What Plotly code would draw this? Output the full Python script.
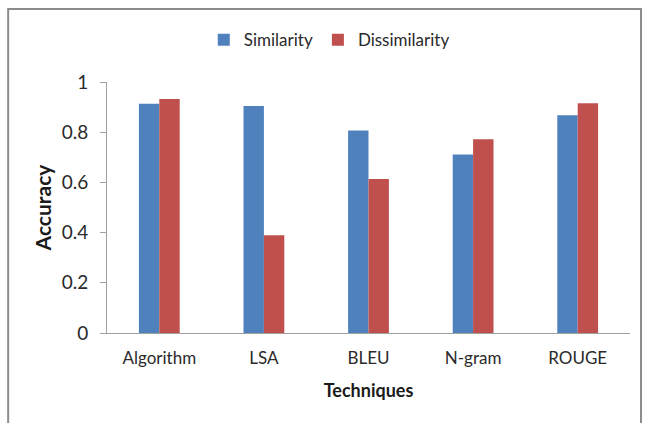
import plotly.graph_objects as go

techniques = ["Algorithm", "LSA", "BLEU", "N-gram", "ROUGE"]
similarity = [0.913, 0.904, 0.807, 0.711, 0.868]
dissimilarity = [0.932, 0.389, 0.614, 0.772, 0.915]
y_ticks = [0, 0.2, 0.4, 0.6, 0.8, 1]
y_tick_labels = ["0", "0.2", "0.4", "0.6", "0.8", "1"]

FONT = "Lato, Carlito, Calibri, sans-serif"
TXT = "#2a2a2a"

fig = go.Figure()
fig.add_trace(go.Bar(name="Similarity", x=techniques, y=similarity,
                     marker=dict(color="#4F81BD", line=dict(width=0))))
fig.add_trace(go.Bar(name="Dissimilarity", x=techniques, y=dissimilarity,
                     marker=dict(color="#C0504D", line=dict(width=0))))

fig.update_layout(
    width=645, height=423,
    margin=dict(l=107, r=15, t=82, b=90),
    paper_bgcolor="white", plot_bgcolor="white",
    barmode="group", bargap=0.61, bargroupgap=0,
    font=dict(family=FONT, size=17, color=TXT),
    legend=dict(orientation="h", x=0.425, y=1.167, xanchor="center", yanchor="middle",
                font=dict(size=17, color=TXT), itemwidth=30, traceorder="normal"),
    xaxis=dict(showline=True, linecolor="#A0A0A0", linewidth=1, ticks="",
               tickfont=dict(size=17, color=TXT), ticklabelstandoff=10,
               title=dict(text="<b>Techniques</b>", font=dict(size=18, color="#1a1a1a"), standoff=16)),
    yaxis=dict(range=[0, 1], tickvals=y_ticks, ticktext=y_tick_labels,
               showline=True, linecolor="#A0A0A0", linewidth=1, ticks="outside",
               ticklen=6, tickcolor="#A0A0A0", showgrid=False, zeroline=False,
               tickfont=dict(size=19, color=TXT), ticklabelstandoff=8,
               title=dict(text="<b>Accuracy</b>", font=dict(size=21, color="#1a1a1a"), standoff=4)),
    shapes=[dict(type="rect", xref="paper", yref="paper",
                 x0=-0.189, x1=1.021, y0=-0.40, y1=1.291,
                 line=dict(color="#8C8C8C", width=2), fillcolor="rgba(0,0,0,0)", layer="below")],
)

fig.write_html("out.html", config={"displayModeBar": False},
               post_script="document.body.style.margin='0';document.body.style.padding='0';")
